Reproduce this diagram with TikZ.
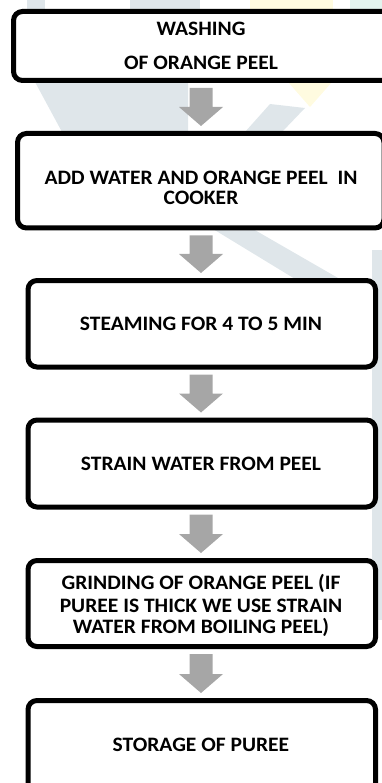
\documentclass[tikz,border=0pt]{standalone}
\usepackage{fontspec}
\setmainfont{Carlito}[FakeStretch=1.05]
\usetikzlibrary{calc}
\definecolor{wmgrey}{HTML}{DFE6EA}
\definecolor{wmyellow}{HTML}{FFFBE0}
\definecolor{wmgreen}{HTML}{E3F4EE}
\definecolor{arrowgrey}{HTML}{A6A6A6}
\tikzset{
  stepbox/.style={draw=black, line width=5pt, rounded corners=9pt, fill=white, inner sep=0pt, outer sep=0pt},
  steptext/.style={font=\fontsize{20.5}{24}\selectfont\bfseries, inner sep=0pt, anchor=base},
  arrowfill/.style={fill=arrowgrey},
}
\newcommand{\flowarrow}[2]{%
  \fill[arrowfill] let \p1=(#1.south -| ax), \p2=(#2.north -| ax) in
    (\x1-11.5pt,\y1-7.5pt) -- (\x1+11.5pt,\y1-7.5pt) -- (\x1+11.5pt,\y2+26.5pt)
    -- (\x1+22pt,\y2+26.5pt) -- (\x1,\y2+7.5pt) -- (\x1-22pt,\y2+26.5pt)
    -- (\x1-11.5pt,\y2+26.5pt) -- cycle;}
\begin{document}
\begin{tikzpicture}[x=1pt,y=-1pt]
\useasboundingbox (0,0) rectangle (382,783);
% faint watermark
\fill[wmgrey] (27,0) -- (45,0) -- (45,12) -- (27,12) -- cycle;
\fill[wmgrey] (130,0) -- (200,0) -- (200,12) -- (130,12) -- cycle;
\fill[wmyellow] (250,0) -- (333,0) -- (333,12) -- (250,12) -- cycle;
\fill[wmgreen] (350,0) -- (382,0) -- (382,12) -- (350,12) -- cycle;
\fill[wmgrey] (35,82) -- (188,82) -- (188,132) -- (62,132) -- cycle;
\fill[wmgrey] (245,132) -- (282,132) -- (305,108) -- (270,104) -- cycle;
\fill[wmyellow] (288,82) -- (332,82) -- (310,107) -- cycle;
\fill[wmgrey] (213,229) -- (253,229) -- (345,282) -- (300,282) -- cycle;
\fill[wmgrey] (372,250) -- (382,250) -- (382,620) -- (372,620) -- cycle;
% axis of the arrows
\coordinate (ax) at (201,0);
% boxes
\node[stepbox, minimum width=378.5pt, minimum height=69pt]   (b1) at (202.75,46) {};
\node[stepbox, minimum width=366.5pt, minimum height=94.5pt] (b2) at (200.75,180.75) {};
\node[stepbox, minimum width=347.5pt, minimum height=86.5pt] (b3) at (201.75,323.75) {};
\node[stepbox, minimum width=347.5pt, minimum height=87pt]   (b4) at (201.75,463.5) {};
\node[stepbox, minimum width=347.5pt, minimum height=86pt]   (b5) at (201.75,603.5) {};
\node[stepbox, minimum width=347.5pt, minimum height=99.5pt] (b6) at (201.75,750.25) {};
% texts
\node[steptext] (t1a) at (201,36) {WASHING};
\node[steptext] (t1b) at (201,69.3) {OF ORANGE PEEL};
\node[steptext] (t2a) at (201,184.5) {ADD WATER AND ORANGE PEEL~ IN};
\node[steptext] (t2b) at (201,204.5) {COOKER};
\node[steptext] (t3) at (201,330.5) {STEAMING FOR 4 TO 5 MIN};
\node[steptext] (t4) at (201,470.5) {STRAIN WATER FROM PEEL};
\node[steptext] (t5a) at (201,589) {GRINDING OF ORANGE PEEL (IF};
\node[steptext] (t5b) at (201,612) {PUREE IS THICK WE USE STRAIN};
\node[steptext] (t5c) at (201,633.5) {WATER FROM BOILING PEEL)};
\node[steptext] (t6) at (201,751.7) {STORAGE OF PUREE};
% arrows
\flowarrow{b1}{b2}
\flowarrow{b2}{b3}
\flowarrow{b3}{b4}
\flowarrow{b4}{b5}
\flowarrow{b5}{b6}
\end{tikzpicture}
\end{document}
